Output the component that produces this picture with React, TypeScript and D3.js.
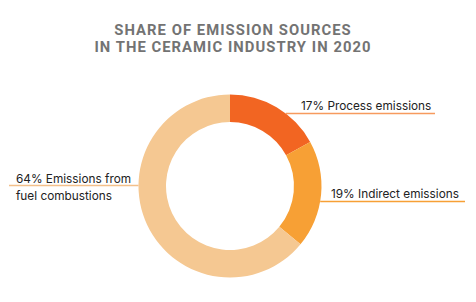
import React from "react";
import * as d3 from "d3";

const categories = ["Process emissions", "Indirect emissions", "Emissions from fuel combustions"];
const shares = [17, 19, 64];
const labelLines = [["17% Process emissions"], ["19% Indirect emissions"], ["64% Emissions from", "fuel combustions"]];
const colors = ["#F26522", "#F7A035", "#F5C892"];
const lineColors = ["#F79A5E", "#F7A035", "#F3C08A"];
const titleLines = ["SHARE OF EMISSION SOURCES", "IN THE CERAMIC INDUSTRY IN 2020"];

const W = 476, H = 302;
const cx = 230, cy = 186, R = 91.5, r = 64;

export default function App() {
  const pie = d3.pie<number>().value((d) => d).sort(null);
  const arcs = pie(shares);
  const arcGen = d3.arc<d3.PieArcDatum<number>>().innerRadius(r).outerRadius(R);

  const lineY = [113.5, 201.5, 185.5];
  const edgeX = (y: number, side: number) => cx + side * Math.sqrt(R * R - (y - cy) * (y - cy));
  const leaders = [
    { x1: edgeX(lineY[0], 1), x2: 435, tx: 301, ty: [110] },
    { x1: edgeX(lineY[1], 1), x2: 465, tx: 331, ty: [198] },
    { x1: 9, x2: edgeX(lineY[2], -1), tx: 16, ty: [182.5, 199.5] },
  ];

  return (
    <div style={{ position: "absolute", left: 0, top: 0 }}>
      <svg width={W} height={H} style={{ display: "block", background: "#fff" }}>
        <g fontFamily="Roboto, sans-serif" fontWeight={700} fill="#737373" textAnchor="middle">
          {titleLines.map((t, i) => (
            <text key={i} x={233} y={34.5 + i * 17.4} fontSize={14.8} letterSpacing={1.05}>
              {t}
            </text>
          ))}
        </g>
        <g transform={`translate(${cx},${cy})`}>
          {arcs.map((a, i) => (
            <path key={categories[i]} d={arcGen(a) || ""} fill={colors[i]} />
          ))}
        </g>
        {leaders.map((l, i) => (
          <g key={i}>
            <line x1={l.x1} x2={l.x2} y1={lineY[i]} y2={lineY[i]} stroke={lineColors[i]} strokeWidth={1.3} />
            {labelLines[i].map((t, j) => (
              <text key={j} x={l.tx} y={l.ty[j]} fontFamily="Inter, sans-serif" fontSize={11.8} fill="#222">
                {t}
              </text>
            ))}
          </g>
        ))}
      </svg>
    </div>
  );
}
